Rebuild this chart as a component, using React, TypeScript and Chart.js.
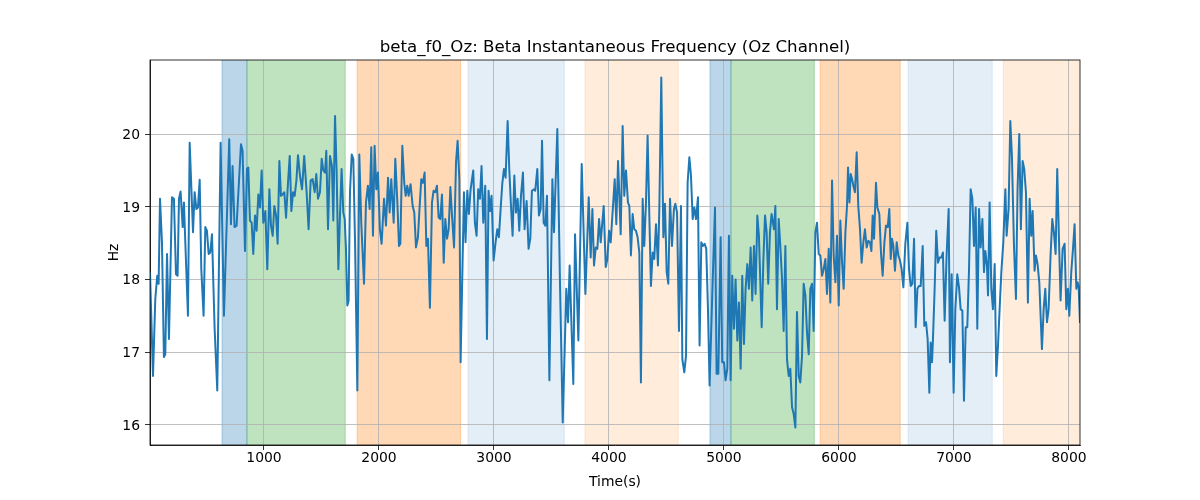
import { useEffect, useRef } from 'react';
import { Chart, registerables } from 'chart.js';

Chart.register(...registerables);

const TITLE = 'beta_f0_Oz: Beta Instantaneous Frequency (Oz Channel)';
const X_LABEL = 'Time(s)';
const Y_LABEL = 'Hz';
const X_TICKS = [1000, 2000, 3000, 4000, 5000, 6000, 7000, 8000];
const Y_TICKS = [16, 17, 18, 19, 20];
const X_MIN = 9;
const X_MAX = 8096;
const Y_MIN = 15.72;
const Y_MAX = 21.02;

const SPAN_STARTS = [635, 852, 1810, 2774, 3791, 4878, 5061, 5836, 6601, 7428];
const SPAN_ENDS = [852, 1707, 2710, 3612, 4603, 5061, 5786, 6533, 7333, 8100];
const SPAN_COLORS = [
  'rgba(31,119,180,0.3)',
  'rgba(44,160,44,0.3)',
  'rgba(255,127,14,0.3)',
  'rgba(31,119,180,0.12)',
  'rgba(255,127,14,0.15)',
  'rgba(31,119,180,0.3)',
  'rgba(44,160,44,0.3)',
  'rgba(255,127,14,0.3)',
  'rgba(31,119,180,0.12)',
  'rgba(255,127,14,0.15)',
];

const times = [
  9, 35, 55, 72, 84, 96, 113, 130, 142, 157, 174, 200, 217, 235, 249, 261, 275, 293, 304, 316, 339, 354, 383, 397, 412, 426, 441, 455, 475, 490, 504, 519, 533, 548, 571, 594, 623, 652,
  698, 713, 727, 744, 762, 779, 800, 814, 835, 852, 864, 878, 893, 907, 922, 936, 951, 965, 980, 994, 1012, 1029, 1047, 1061, 1076, 1090, 1105, 1119, 1134, 1148, 1163, 1177, 1192, 1209, 1224, 1238, 1253, 1267, 1282, 1296, 1313, 1331,
  1350, 1371, 1388, 1406, 1423, 1441, 1455, 1470, 1487, 1502, 1516, 1531, 1542, 1557, 1574, 1591, 1603, 1618, 1632, 1647, 1661, 1675, 1690, 1702, 1713, 1725, 1736, 1748, 1763, 1777, 1792, 1812, 1829, 1846, 1870, 1887, 1904, 1919, 1933, 1948, 1962, 1977, 1991, 2008, 2023,
  2044, 2061, 2079, 2093, 2107, 2128, 2142, 2160, 2174, 2186, 2203, 2220, 2232, 2246, 2258, 2275, 2293, 2307, 2322, 2339, 2354, 2368, 2383, 2397, 2412, 2426, 2443, 2461, 2475, 2490, 2504, 2519, 2533, 2548, 2563, 2577, 2592, 2606, 2621, 2635, 2653, 2670, 2684, 2699, 2710,
  2739, 2753, 2768, 2782, 2797, 2820, 2834, 2849, 2863, 2878, 2892, 2907, 2924, 2939, 2953, 2965, 2979, 2997, 3014, 3029, 3043, 3058, 3072, 3087, 3101, 3119, 3133, 3148, 3162, 3177, 3191, 3206, 3220, 3235, 3252, 3266, 3284, 3301, 3316, 3330, 3348, 3359, 3377, 3391,
  3406, 3418, 3432, 3447, 3461, 3482, 3508, 3522, 3551, 3574, 3598, 3629, 3644, 3658, 3690, 3705, 3734, 3763, 3795, 3824, 3841, 3856, 3870, 3885, 3899, 3914, 3928, 3954, 3972, 3986, 4001, 4015, 4050, 4064, 4079,
  4102, 4119, 4133, 4148, 4165, 4177, 4191, 4206, 4220, 4235, 4249, 4264, 4278, 4293, 4307, 4322, 4336, 4351, 4365, 4380, 4394, 4409, 4426, 4438, 4455, 4473, 4487, 4502, 4516, 4531, 4548, 4565, 4577, 4592, 4609, 4626, 4638, 4655, 4670, 4684, 4699, 4713, 4728, 4742, 4757,
  4774, 4788, 4803, 4817, 4832, 4846, 4861, 4875, 4898, 4922, 4936, 4951, 4971, 4985, 5000, 5014, 5029, 5043, 5058, 5072, 5087, 5101, 5116, 5130, 5145, 5159, 5174, 5188, 5203, 5217, 5232, 5246, 5261, 5275, 5290, 5304, 5328, 5342, 5357, 5371, 5385, 5400, 5414, 5435,
  5447, 5461, 5476, 5490, 5505, 5519, 5534, 5548, 5563, 5577, 5592, 5606, 5621, 5635, 5650, 5664, 5679, 5693, 5708, 5722, 5737, 5751, 5766, 5780, 5795, 5809, 5824, 5838, 5853, 5867, 5882, 5896, 5911, 5925, 5940, 5954, 5969, 5983, 5998, 6012, 6027, 6041, 6056, 6070, 6079, 6091, 6102, 6114,
  6125, 6139, 6154, 6168, 6183, 6197, 6212, 6226, 6241, 6255, 6270, 6282, 6293, 6305, 6322, 6334, 6351, 6366, 6380, 6395, 6409, 6424, 6438, 6450, 6461, 6473, 6487, 6502, 6516, 6531, 6545, 6560, 6577, 6595, 6609, 6624, 6638, 6653, 6667, 6682, 6696, 6711, 6728, 6742, 6757, 6771, 6786,
  6797, 6809, 6817, 6832, 6846, 6861, 6875, 6890, 6904, 6919, 6936, 6954, 6965, 6980, 6997, 7012, 7029, 7044, 7058, 7073, 7087, 7102, 7116, 7131, 7145, 7160, 7174, 7189, 7203, 7218, 7232, 7247, 7261, 7273, 7287, 7296, 7310, 7325, 7339, 7354, 7368, 7383, 7397, 7412, 7429, 7447, 7458,
  7475, 7490, 7504, 7522, 7539, 7553, 7568, 7582, 7597, 7611, 7626, 7643, 7658, 7672, 7684, 7701, 7713, 7727, 7742, 7765, 7780, 7794, 7809, 7823, 7840, 7855, 7869, 7884, 7898, 7913, 7927, 7945, 7962, 7977, 7991, 8003, 8020, 8035, 8049, 8064, 8075, 8084, 8096,
];

const hz = [
  18.1, 16.67, 17.73, 18.05, 17.94, 19.11, 18.51, 16.93, 16.97, 18.35, 17.18, 19.13, 19.11, 18.07, 18.05, 19.11, 19.21, 18.72, 19.06, 18.51, 17.5, 19.88, 18.65, 19.2, 18.97, 18.99, 19.37, 18.14, 17.5, 18.72, 18.67, 18.35, 18.37, 18.62, 17.32, 16.47, 19.88, 17.5,
  19.93, 18.76, 19.56, 18.72, 18.74, 19.24, 19.86, 19.77, 18.39, 19.52, 19.54, 18.81, 18.78, 18.35, 18.88, 18.67, 19.17, 18.99, 19.5, 18.78, 18.94, 18.14, 19.24, 18.74, 18.6, 19.01, 18.88, 18.49, 19.63, 19.15, 19.17, 19.2, 18.85, 19.33, 19.7, 18.94, 19.2, 19.15, 19.36, 19.71, 19.43, 19.24,
  19.7, 19.2, 18.69, 19.36, 19.38, 19.2, 19.45, 19.11, 19.2, 19.66, 19.5, 19.47, 19.77, 18.69, 19.7, 19.56, 18.81, 20.25, 19.47, 18.14, 18.88, 19.52, 18.92, 18.83, 18.42, 17.64, 17.71, 19.2, 19.72, 19.66, 18.51, 16.47, 19.72, 18.78, 17.94, 19.06, 19.29, 18.97, 19.82, 18.6, 19.84, 19.24, 19.47, 18.69, 18.49,
  19.11, 18.74, 19.4, 18.92, 19.38, 18.78, 19.66, 19.06, 18.46, 18.49, 19.84, 19.33, 19.15, 19.29, 19.15, 19.31, 19.01, 18.92, 18.44, 18.58, 19.01, 19.38, 19.33, 19.47, 18.46, 18.56, 17.61, 19.06, 19.22, 19.2, 19.29, 18.85, 18.83, 19.17, 18.23, 18.83, 18.56, 18.69, 19.27, 18.88, 18.44, 19.61, 19.91, 19.38, 16.86,
  19.2, 18.51, 19.22, 18.9, 19.24, 19.5, 18.78, 18.6, 19.24, 19.11, 19.56, 18.78, 19.29, 17.18, 19.22, 18.94, 19.15, 18.26, 18.51, 18.69, 18.58, 18.97, 19.31, 19.52, 19.4, 20.18, 19.52, 19.01, 18.6, 19.43, 18.92, 19.11, 18.67, 19.15, 19.47, 18.69, 19.08, 18.42, 18.56, 19.22, 19.24, 19.22, 19.52, 18.88,
  18.97, 19.91, 18.78, 18.74, 19.15, 16.61, 19.38, 18.65, 20.07, 17.96, 16.03, 17.87, 17.41, 18.19, 16.56, 18.62, 17.16, 19.59, 17.8, 19.13, 18.3, 18.97, 18.19, 18.44, 18.42, 18.83, 18.51, 19.01, 18.17, 18.28, 18.67, 18.51, 19.38, 18.76, 19.63,
  18.62, 20.11, 19.15, 19.5, 19.06, 19.01, 18.33, 18.9, 18.69, 18.67, 18.58, 18.37, 16.58, 19.11, 18.46, 19.06, 19.98, 18.88, 17.91, 18.37, 18.28, 18.76, 18.19, 18.97, 20.78, 18.58, 19.04, 18.1, 17.94, 19.11, 18.46, 18.97, 19.04, 18.92, 17.29, 19.01, 16.9, 16.72, 16.95, 19.33, 19.68, 19.43, 18.83, 18.99, 18.83,
  19.13, 17.09, 18.51, 18.46, 18.49, 18.42, 17.59, 16.54, 17.78, 18.99, 16.7, 16.7, 18.58, 16.86, 16.86, 16.61, 16.77, 18.6, 16.61, 18.05, 17.32, 18.0, 17.16, 17.68, 16.77, 18.05, 17.11, 17.87, 18.21, 17.87, 18.44, 17.71, 18.46, 17.8, 18.88, 18.6, 17.34, 18.23, 18.88, 18.65, 17.94, 18.65, 18.9, 18.69,
  19.01, 17.59, 18.83, 18.46, 18.0, 17.29, 18.46, 16.9, 16.67, 16.77, 16.24, 16.15, 15.96, 17.55, 16.67, 16.58, 16.95, 17.94, 17.78, 17.27, 16.97, 17.87, 17.94, 17.29, 18.65, 18.78, 18.35, 18.33, 18.05, 18.14, 18.28, 17.8, 18.42, 17.68, 19.36, 18.33, 17.96, 18.6, 17.64, 18.81, 18.23, 17.87, 18.65, 19.01, 19.54, 19.06, 19.45, 19.38,
  19.29, 19.2, 19.75, 19.01, 18.69, 18.23, 18.51, 18.69, 18.44, 18.53, 18.51, 18.39, 18.88, 18.56, 19.33, 18.99, 18.9, 18.35, 18.05, 18.51, 18.74, 18.72, 18.97, 18.28, 18.56, 18.46, 18.12, 18.51, 18.33, 18.26, 18.14, 17.89, 18.49, 18.78, 18.14, 17.91, 17.94, 18.56, 17.34, 17.87, 17.91, 17.91, 18.46, 17.36, 17.41, 17.18, 16.44,
  17.13, 16.86, 17.16, 17.87, 18.67, 18.23, 18.3, 18.3, 18.37, 17.43, 18.33, 18.97, 16.86, 18.07, 16.44, 17.59, 18.07, 17.89, 17.59, 17.57, 16.33, 17.34, 17.34, 18.14, 19.24, 19.11, 18.46, 18.99, 17.32, 18.97, 18.44, 18.83, 18.1, 18.39, 18.19, 17.78, 19.06, 17.87, 17.59, 18.21, 16.67, 17.09, 17.59, 18.1, 18.51, 19.24, 18.6,
  18.97, 20.18, 19.7, 18.46, 17.73, 19.24, 20.0, 18.69, 19.63, 19.52, 19.2, 17.68, 19.11, 18.6, 18.94, 18.12, 18.33, 18.21, 17.96, 17.04, 17.59, 17.87, 17.41, 17.59, 18.33, 18.83, 18.65, 18.35, 19.52, 18.56, 17.71, 18.42, 18.49, 17.59, 17.87, 17.5, 18.1, 18.42, 18.76, 17.87, 17.96, 17.91, 17.4,
];

const FONT = '"DejaVu Sans", sans-serif';

const overlay = {
  id: 'overlay',
  beforeDraw(chart: any) {
    const { ctx, chartArea: a, scales } = chart;
    const xs = scales.x;
    ctx.save();
    ctx.beginPath();
    ctx.rect(a.left, a.top, a.right - a.left, a.bottom - a.top);
    ctx.clip();
    for (let i = 0; i < SPAN_STARTS.length; i++) {
      const x0 = xs.getPixelForValue(SPAN_STARTS[i]);
      const x1 = xs.getPixelForValue(SPAN_ENDS[i]);
      ctx.fillStyle = SPAN_COLORS[i];
      ctx.fillRect(x0, a.top, x1 - x0, a.bottom - a.top);
      ctx.strokeStyle = SPAN_COLORS[i];
      ctx.lineWidth = 1;
      ctx.beginPath();
      ctx.moveTo(x0, a.top);
      ctx.lineTo(x0, a.bottom);
      ctx.moveTo(x1, a.top);
      ctx.lineTo(x1, a.bottom);
      ctx.stroke();
    }
    ctx.restore();
  },
  afterDraw(chart: any) {
    const { ctx, chartArea: a, scales } = chart;
    const xs = scales.x;
    const ys = scales.y;
    ctx.save();
    ctx.strokeStyle = '#000';
    ctx.lineWidth = 0.8;
    ctx.strokeRect(a.left, a.top, a.right - a.left, a.bottom - a.top);

    ctx.fillStyle = '#000';
    ctx.font = `13.9px ${FONT}`;
    ctx.textBaseline = 'alphabetic';
    ctx.textAlign = 'center';
    for (const v of X_TICKS) {
      ctx.fillText(String(v), xs.getPixelForValue(v), 462);
    }
    ctx.textAlign = 'right';
    for (const v of Y_TICKS) {
      ctx.fillText(String(v), 140, ys.getPixelForValue(v) + 5);
    }

    ctx.textAlign = 'center';
    ctx.fillText(X_LABEL, (a.left + a.right) / 2, 486);

    ctx.save();
    ctx.translate(114, (a.top + a.bottom) / 2);
    ctx.rotate(-Math.PI / 2);
    ctx.textBaseline = 'middle';
    ctx.fillText(Y_LABEL, 0, 0);
    ctx.restore();

    ctx.font = `16.67px ${FONT}`;
    ctx.textBaseline = 'alphabetic';
    ctx.fillText(TITLE, (a.left + a.right) / 2, 52);
    ctx.restore();
  },
};

export default function App() {
  const ref = useRef<HTMLCanvasElement | null>(null);

  useEffect(() => {
    document.body.style.margin = '0';
    const canvas = ref.current;
    if (!canvas) return;
    const chart = new Chart(canvas, {
      type: 'line',
      data: {
        datasets: [
          {
            data: times.map((t, i) => ({ x: t, y: hz[i] })),
            borderColor: '#1f77b4',
            borderWidth: 2,
            pointRadius: 0,
            tension: 0,
            fill: false,
            borderJoinStyle: 'round',
          },
        ],
      },
      options: {
        animation: false,
        responsive: true,
        maintainAspectRatio: false,
        events: [],
        layout: { padding: { left: 0, right: 120, top: 60, bottom: 0 } },
        plugins: { legend: { display: false }, tooltip: { enabled: false }, title: { display: false } },
        scales: {
          x: {
            type: 'linear',
            min: X_MIN,
            max: X_MAX,
            afterBuildTicks: (s: any) => {
              s.ticks = X_TICKS.map((v) => ({ value: v }));
            },
            afterFit: (s: any) => {
              s.height = 55;
            },
            ticks: { display: false },
            grid: { color: '#b0b0b0', lineWidth: 0.8, tickColor: '#000', tickLength: 5, tickWidth: 0.8 },
            border: { display: true, color: '#000', width: 0.8 },
          },
          y: {
            type: 'linear',
            min: Y_MIN,
            max: Y_MAX,
            afterBuildTicks: (s: any) => {
              s.ticks = Y_TICKS.map((v) => ({ value: v }));
            },
            afterFit: (s: any) => {
              s.width = 150;
            },
            ticks: { display: false },
            grid: { color: '#b0b0b0', lineWidth: 0.8, tickColor: '#000', tickLength: 5, tickWidth: 0.8 },
            border: { display: true, color: '#000', width: 0.8 },
          },
        },
      },
      plugins: [overlay],
    });
    return () => chart.destroy();
  }, []);

  return (
    <div style={{ width: 1200, height: 500, position: 'relative' }}>
      <canvas ref={ref} />
    </div>
  );
}
